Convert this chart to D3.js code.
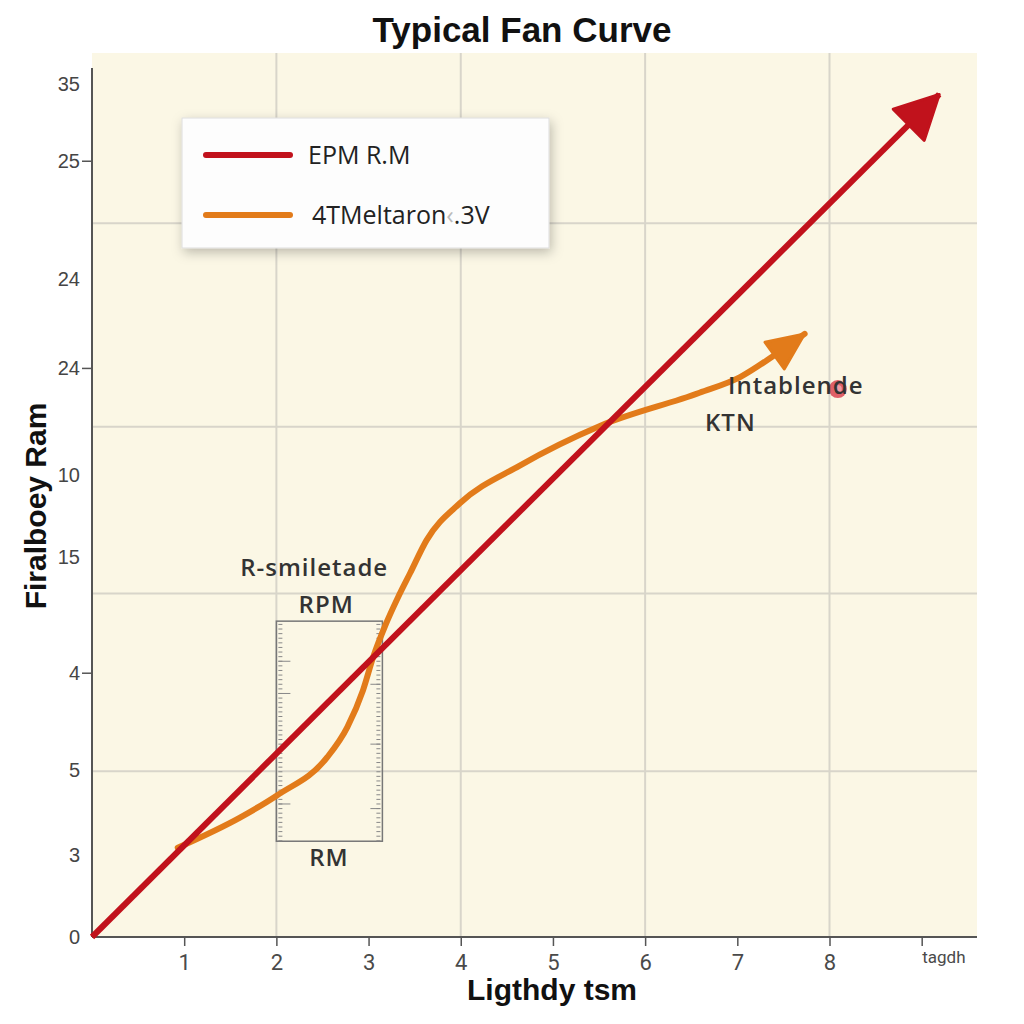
<!DOCTYPE html>
<html>
<head>
<meta charset="utf-8">
<script src="https://cdn.jsdelivr.net/npm/d3@7"></script>
<style>
  body { margin: 0; background: #fff; }
  svg { display: block; }
</style>
</head>
<body>
<svg width="1024" height="1024"></svg>
<script>
var svg = d3.select("svg");

// chart values
var xTicks = [1, 2, 3, 4, 5, 6, 7, 8, 9];
var xTickLabels = ["1", "2", "3", "4", "5", "6", "7", "8", "tagdh"];
var yTicks = [0, 0.89, 1.81, 2.87, 4.13, 5.02, 6.18, 7.14, 8.43, 9.26];
var yTickLabels = ["0", "3", "5", "4", "15", "10", "24", "24", "25", "35"];
var yTickMarked = [false, false, false, true, false, false, true, false, true, false];
var gridX = [2, 4, 6, 8];
var gridY = [1.8, 3.73, 5.54, 7.75];

var redLine = [[0, 0], [9.19, 9.15]];
var orangeCurve = [
  [0.93, 0.97], [1.61, 1.30], [2.01, 1.54], [2.55, 1.95], [2.77, 2.28],
  [2.94, 2.68], [3.05, 3.04], [3.18, 3.38], [3.32, 3.69], [3.45, 3.95],
  [3.63, 4.31], [3.99, 4.71], [4.64, 5.12], [5.51, 5.55], [6.59, 5.91],
  [7.03, 6.08], [7.39, 6.31], [7.73, 6.55]
];
var seriesNames = ["EPM R.M", "4TMeltaron"];
var boxX = [2.0, 3.15];
var boxY = [1.04, 3.43];
var boxMajor = [1.45, 2.65, 3.0];
var boxMajorRight = [1.4, 2.1, 2.75];
var dot = [8.09, 5.95];
var notes = [
  { text: "R-smiletade", x: 2.41, y: 3.92, anchor: "middle" },
  { text: "RPM", x: 2.54, y: 3.52, anchor: "middle" },
  { text: "RM", x: 2.57, y: 0.77, anchor: "middle" },
  { text: "Intablende", x: 6.9, y: 5.9, anchor: "start" },
  { text: "KTN", x: 6.65, y: 5.49, anchor: "start" }
];

var plotLeft = 92, plotRight = 977, plotTop = 53, plotBottom = 937;
var red = "#c1121c", orange = "#e27b1a";

var x = d3.scaleLinear().domain([0, 9.6]).range([plotLeft, plotRight]);
var y = d3.scaleLinear().domain([0, 9.6]).range([plotBottom, plotTop]);

var defs = svg.append("defs");
var shadow = defs.append("filter").attr("id", "shadow")
  .attr("x", "-10%").attr("y", "-20%").attr("width", "130%").attr("height", "150%");
shadow.append("feDropShadow").attr("dx", 2).attr("dy", 4).attr("stdDeviation", 6)
  .attr("flood-color", "#000").attr("flood-opacity", 0.25);

// plain triangle heads, tip sits on the end of the path
function arrowHead(id, color, len, wid) {
  defs.append("marker").attr("id", id)
    .attr("markerUnits", "userSpaceOnUse")
    .attr("viewBox", "0 0 " + (len + 6) + " " + (wid + 6))
    .attr("markerWidth", len + 6).attr("markerHeight", wid + 6)
    .attr("refX", len + 2).attr("refY", wid / 2 + 3)
    .attr("orient", "auto")
    .append("path")
    .attr("d", "M3,3 L" + (len + 2) + "," + (wid / 2 + 3) + " L3," + (wid + 3) + " Z")
    .attr("fill", color).attr("stroke", color).attr("stroke-width", 3)
    .attr("stroke-linejoin", "round");
}
arrowHead("redHead", red, 44, 44);
arrowHead("orangeHead", orange, 38, 33);

// plot background
svg.append("rect").attr("x", plotLeft).attr("y", plotTop)
  .attr("width", plotRight - plotLeft).attr("height", plotBottom - plotTop)
  .attr("fill", "#fbf7e5");

// grid
svg.selectAll(".gx").data(gridX).enter().append("line")
  .attr("x1", d => x(d)).attr("x2", d => x(d))
  .attr("y1", plotTop).attr("y2", plotBottom)
  .attr("stroke", "#d8d5ca").attr("stroke-width", 2);
svg.selectAll(".gy").data(gridY).enter().append("line")
  .attr("x1", plotLeft).attr("x2", plotRight)
  .attr("y1", d => y(d)).attr("y2", d => y(d))
  .attr("stroke", "#d8d5ca").attr("stroke-width", 2);

// x axis
var xAxis = svg.append("g").attr("transform", "translate(0," + plotBottom + ")")
  .call(d3.axisBottom(x).tickValues(xTicks).tickSize(9).tickPadding(8)
    .tickFormat((d, i) => xTickLabels[i]));
xAxis.select(".domain").attr("d", "M" + plotLeft + ",0H" + plotRight)
  .attr("stroke", "#555").attr("stroke-width", 2);
xAxis.selectAll(".tick line").attr("stroke", "#555").attr("stroke-width", 1.5);
xAxis.selectAll(".tick text")
  .attr("font-family", "'Liberation Sans Narrow', 'Roboto', sans-serif")
  .attr("font-size", 22).attr("fill", "#4a4a4a");
xAxis.selectAll(".tick").filter((d, i) => i === xTicks.length - 1).select("text")
  .attr("text-anchor", "start").attr("font-size", 17).attr("dy", "0.5em");

// y axis
var yAxis = svg.append("g").attr("transform", "translate(" + plotLeft + ",0)")
  .call(d3.axisLeft(y).tickValues(yTicks).tickSize(0).tickPadding(12)
    .tickFormat((d, i) => yTickLabels[i]));
yAxis.select(".domain").attr("d", "M0," + (plotTop + 15) + "V" + plotBottom)
  .attr("stroke", "#555").attr("stroke-width", 2);
yAxis.selectAll(".tick text")
  .attr("font-family", "'Liberation Sans', 'Roboto', sans-serif")
  .attr("font-size", 20).attr("fill", "#454545");
yAxis.selectAll(".tick").filter((d, i) => yTickMarked[i]).append("line")
  .attr("x1", -10).attr("x2", 0).attr("stroke", "#555").attr("stroke-width", 1.5);

// box with ruler ticks
var bx0 = x(boxX[0]), bx1 = x(boxX[1]), by0 = y(boxY[1]), by1 = y(boxY[0]);
svg.append("rect").attr("x", bx0).attr("y", by0)
  .attr("width", bx1 - bx0).attr("height", by1 - by0)
  .attr("fill", "none").attr("stroke", "#777").attr("stroke-width", 1.5);
var boxScale = d3.scaleLinear().domain(boxY).range([by1, by0]);
var minor = boxScale.ticks(40);
function ruler(xPos, axisFn, vals, size) {
  svg.append("g").attr("transform", "translate(" + xPos + ",0)")
    .call(axisFn(boxScale).tickValues(vals).tickSize(size).tickFormat(""))
    .call(g => g.select(".domain").remove())
    .selectAll("line").attr("stroke", "#888");
}
ruler(bx0 + 2, d3.axisRight, minor, 4);
ruler(bx0 + 2, d3.axisRight, boxMajor, 12);
ruler(bx1 - 2, d3.axisLeft, minor, 4);
ruler(bx1 - 2, d3.axisLeft, boxMajorRight, 10);

// lines
svg.append("path").datum(orangeCurve)
  .attr("d", d3.line().x(d => x(d[0])).y(d => y(d[1])).curve(d3.curveMonotoneX))
  .attr("fill", "none").attr("stroke", orange).attr("stroke-width", 6)
  .attr("stroke-linecap", "round").attr("marker-end", "url(#orangeHead)");
svg.append("path").datum(redLine)
  .attr("d", d3.line().x(d => x(d[0])).y(d => y(d[1])))
  .attr("fill", "none").attr("stroke", red).attr("stroke-width", 6)
  .attr("marker-end", "url(#redHead)");

// red dot
svg.append("circle").attr("cx", x(dot[0])).attr("cy", y(dot[1])).attr("r", 9)
  .attr("fill", "#d83a48").attr("opacity", 0.8);
svg.append("circle").attr("cx", x(dot[0])).attr("cy", y(dot[1])).attr("r", 4)
  .attr("fill", "#f4a6ab").attr("opacity", 0.85);

// annotations
svg.selectAll(".note").data(notes).enter().append("text")
  .attr("x", d => x(d.x)).attr("y", d => y(d.y))
  .attr("text-anchor", d => d.anchor)
  .attr("font-family", "'Open Sans', 'DejaVu Sans', sans-serif")
  .attr("font-weight", 600).attr("font-size", 24)
  .attr("letter-spacing", 1).attr("fill", "#333")
  .text(d => d.text);

// legend
var lg = svg.append("g").attr("transform", "translate(182,118)");
lg.append("rect").attr("width", 367).attr("height", 130)
  .attr("fill", "#fdfdfd").attr("stroke", "#ddd").attr("filter", "url(#shadow)");
[red, orange].forEach(function(c, i) {
  var yy = 37 + i * 60;
  lg.append("line").attr("x1", 24).attr("x2", 108).attr("y1", yy).attr("y2", yy)
    .attr("stroke", c).attr("stroke-width", 6).attr("stroke-linecap", "round");
  var t = lg.append("text").attr("x", i ? 130 : 126).attr("y", yy + 9)
    .attr("font-family", "'Open Sans', 'DejaVu Sans', sans-serif")
    .attr("font-size", 25).attr("fill", "#222").text(seriesNames[i]);
  if (i) {
    t.append("tspan").attr("fill", "#bbb").text("‹");
    t.append("tspan").text(".3V");
  }
});

// titles
svg.append("text").attr("x", 522).attr("y", 42).attr("text-anchor", "middle")
  .attr("font-family", "'Liberation Sans Narrow', sans-serif")
  .attr("font-weight", "bold").attr("font-size", 35).attr("fill", "#111")
  .text("Typical Fan Curve");
svg.append("text").attr("transform", "translate(46,506) rotate(-90)")
  .attr("text-anchor", "middle")
  .attr("font-family", "'Liberation Sans Narrow', sans-serif")
  .attr("font-weight", "bold").attr("font-size", 30).attr("fill", "#111")
  .text("Firalboey Ram");
svg.append("text").attr("x", 552).attr("y", 1000).attr("text-anchor", "middle")
  .attr("font-family", "'Liberation Sans Narrow', sans-serif")
  .attr("font-weight", "bold").attr("font-size", 30).attr("fill", "#111")
  .text("Ligthdy tsm");
</script>
</body>
</html>
